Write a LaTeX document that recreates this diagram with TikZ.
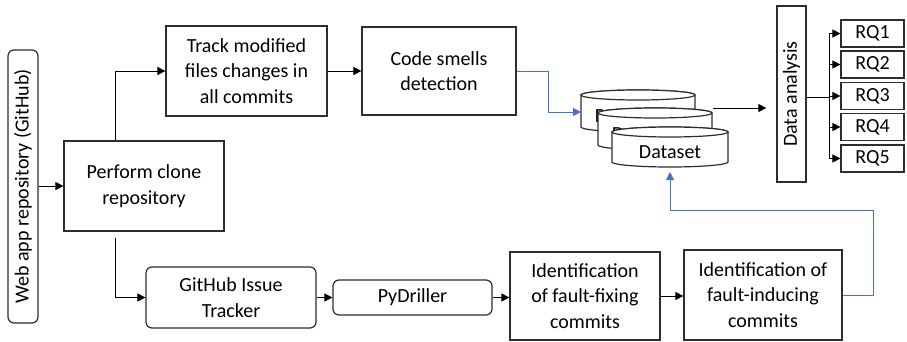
\documentclass[tikz,border=0pt]{standalone}
\usepackage{fontspec}
\setmainfont{Carlito}
\usetikzlibrary{arrows.meta}
\definecolor{bord}{RGB}{45,45,45}
\definecolor{lblue}{RGB}{68,114,196}
\tikzset{
  box/.style={draw=bord, line width=1.2pt, align=center, inner sep=0pt,
    font=\fontsize{20}{25.5}\selectfont},
  rbox/.style={box, rounded corners=6pt},
  arr/.style={draw=black, line width=0.8pt, -{Triangle[length=8pt,width=8pt]}},
  barr/.style={draw=lblue, line width=0.8pt, -{Triangle[length=8pt,width=8pt]}},
  cyl/.style={draw=bord, line width=1.2pt, fill=white},
  cyltext/.style={font=\fontsize{20}{25.5}\selectfont, inner sep=0pt}
}
\begin{document}
\begin{tikzpicture}[x=1pt,y=-1pt]
\useasboundingbox (0,0) rectangle (907,342);

% boxes
\node[rbox, rotate=90, minimum width=273pt, minimum height=30pt] (web) at (23,186.5) {Web app repository (GitHub)};
\node[box, minimum width=160pt, minimum height=90pt] (clone) at (144,186) {Perform clone\\repository};
\node[box, minimum width=161pt, minimum height=90pt] (track) at (246.5,71) {Track modified\\files changes in\\all commits};
\node[box, minimum width=154pt, minimum height=88pt] (code) at (439,71) {Code smells\\detection};
\node[box, rotate=90, minimum width=176pt, minimum height=29pt] (data) at (791.5,94) {Data analysis};
\foreach \i/\yy in {1/33.5,2/64.5,3/96,4/127,5/158.5}{
  \node[box, minimum width=63pt, minimum height=27pt] (rq\i) at (872.5,\yy) {RQ\i};
}
\node[rbox, minimum width=170pt, minimum height=61pt] (git) at (231,297.5) {GitHub Issue\\Tracker};
\node[rbox, minimum width=159pt, minimum height=35pt] (py) at (412.5,297.5) {PyDriller};
\node[box, minimum width=150pt, minimum height=88pt] (fix) at (585,296) {Identification\\of fault-fixing\\commits};
\node[box, minimum width=158pt, minimum height=90pt] (ind) at (763,295) {Identification of\\fault-inducing\\commits};

% cylinders
\filldraw[cyl] (581,95) -- (581,127) arc[start angle=180,end angle=360,x radius=57pt,y radius=5pt] -- (695,95) arc[start angle=0,end angle=180,x radius=57pt,y radius=5pt] -- cycle;
\draw[cyl] (638,95) ellipse[x radius=57pt,y radius=5pt];
\node[cyltext] (ds1) at (626,116) {Dataset};
\filldraw[cyl] (598,113) -- (598,145) arc[start angle=180,end angle=360,x radius=57pt,y radius=5pt] -- (712,113) arc[start angle=0,end angle=180,x radius=57pt,y radius=5pt] -- cycle;
\draw[cyl] (655,113) ellipse[x radius=57pt,y radius=5pt];
\node[cyltext] (ds2) at (643,134) {Dataset};
\filldraw[cyl] (612,132) -- (612,162) arc[start angle=180,end angle=360,x radius=58pt,y radius=5pt] -- (728,132) arc[start angle=0,end angle=180,x radius=58pt,y radius=5pt] -- cycle;
\draw[cyl] (670,132) ellipse[x radius=58pt,y radius=5pt];
\node[cyltext] (ds3) at (670,152) {Dataset};

\coordinate (c1l) at (581,112);
\coordinate (c2r) at (713,108);
\coordinate (c3b) at (670,167);
\coordinate (trunk) at (829,97);

% connectors
\draw[arr] (web.south |- clone.west) -- (clone.west);
\draw[arr] ([xshift=-29pt]clone.north) |- (track.west);
\draw[arr, shorten <=6pt] ([xshift=-29pt]clone.south) |- (git.west);
\draw[arr] (track.east) -- (code.east -| code.west);
\draw[barr] (code.east) -- (548,71) |- (c1l);
\draw[arr, shorten >=10pt] (c2r) -- (data.north |- c2r);
\draw[line width=0.8pt] (data.south |- trunk) -- (trunk);
\draw[line width=0.8pt] (829,33.5) -- (829,158.5);
\foreach \i in {1,...,5}{
  \draw[arr] (trunk |- rq\i.west) -- (rq\i.west);
}
\draw[arr] (git.east) -- (py.west);
\draw[arr] (py.east) -- (py.east -| fix.west);
\draw[arr] (fix.east) -- (fix.east -| ind.west);
\draw[barr, shorten >=5pt] (ind.east) -- (873,295) -- (873,210) -| (c3b);
\end{tikzpicture}
\end{document}
